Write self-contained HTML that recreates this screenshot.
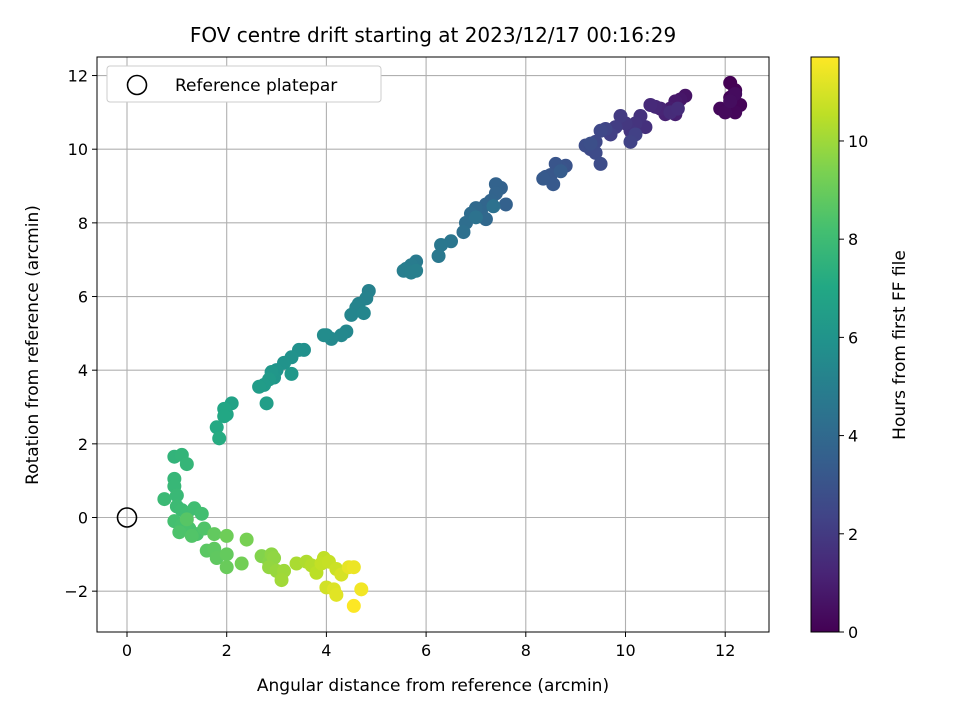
<!DOCTYPE html>
<html><head><meta charset="utf-8"><style>
body{margin:0;background:#fff}
svg text{font-family:"DejaVu Sans","Liberation Sans",sans-serif;fill:#000}
</style></head><body>
<svg id="c" width="960" height="720" xmlns="http://www.w3.org/2000/svg">
<defs><linearGradient id="vg" x1="0" y1="1" x2="0" y2="0">
<stop offset="0" stop-color="#440154"/><stop offset="0.1" stop-color="#482475"/><stop offset="0.2" stop-color="#414487"/><stop offset="0.3" stop-color="#355f8d"/><stop offset="0.4" stop-color="#2a788e"/><stop offset="0.5" stop-color="#21918c"/><stop offset="0.6" stop-color="#22a884"/><stop offset="0.7" stop-color="#44bf70"/><stop offset="0.8" stop-color="#7ad151"/><stop offset="0.9" stop-color="#bddf26"/><stop offset="1" stop-color="#fde725"/></linearGradient>
<clipPath id="clip"><rect x="97" y="57" width="672" height="575"/></clipPath></defs>
<rect width="960" height="720" fill="#fff"/>
<g id="grid"></g>
<g id="pts" clip-path="url(#clip)"></g>
<circle cx="127" cy="517.5" r="9.5" fill="none" stroke="#000" stroke-width="1.6"/>
<rect x="97" y="57" width="672" height="575" fill="none" stroke="#000" stroke-width="1"/>
<g id="ticks"></g>
<text x="433" y="42" font-size="20" text-anchor="middle">FOV centre drift starting at 2023/12/17 00:16:29</text>
<text x="433" y="691" font-size="17" text-anchor="middle">Angular distance from reference (arcmin)</text>
<text transform="translate(38,345) rotate(-90)" font-size="17" text-anchor="middle">Rotation from reference (arcmin)</text>
<g>
<rect x="107" y="66" width="274" height="36" rx="3" fill="#fff" stroke="#ccc"/>
<circle cx="137" cy="85" r="9.5" fill="none" stroke="#000" stroke-width="1.6"/>
<text x="175" y="91" font-size="17">Reference platepar</text></g>
<rect x="811" y="57" width="28" height="575" fill="url(#vg)" stroke="#000" stroke-width="1"/>
<g id="cbt"></g>
<text transform="translate(905,345) rotate(-90)" font-size="17" text-anchor="middle">Hours from first FF file</text>
</svg>
<script>
const xs=[12.1,12.2,12.1,12.3,12.2,11.9,12.0,12.2,12.1,11.2,11.1,11.0,10.9,11.0,10.8,10.7,10.6,10.5,10.9,11.05,10.4,10.3,10.2,10.1,10.0,9.9,9.8,9.7,10.2,10.1,9.6,9.5,9.4,9.3,9.4,9.5,9.2,9.3,8.8,8.7,8.6,8.5,8.4,8.55,8.35,8.7,7.6,7.5,7.4,7.4,7.3,7.2,7.1,7.2,7.0,6.9,6.8,6.75,7.35,7.0,6.5,6.3,6.25,5.8,5.7,5.6,5.55,5.7,5.8,4.85,4.8,4.65,4.6,4.5,4.75,4.4,4.3,4.1,4.0,3.95,3.55,3.45,3.3,3.15,3.0,2.95,2.9,3.3,2.85,2.75,2.65,2.8,2.1,2.0,1.95,1.95,1.8,1.85,0.95,1.1,1.2,0.95,0.95,1.0,0.75,1.0,1.1,1.2,1.35,1.5,0.95,1.1,1.25,1.4,1.05,1.55,1.3,1.2,1.6,1.75,1.8,1.75,2.0,2.0,2.0,2.3,2.4,2.7,2.85,2.9,2.95,2.85,3.0,3.15,3.1,3.4,3.6,3.7,3.8,3.95,3.9,4.05,4.2,4.0,4.3,4.15,4.2,4.45,4.55,4.7,4.55];
const ys=[11.8,11.6,11.4,11.2,11.0,11.1,11.0,11.5,11.3,11.45,11.35,11.3,11.1,10.95,10.95,11.1,11.15,11.2,11.0,11.1,10.6,10.9,10.7,10.5,10.7,10.9,10.6,10.4,10.4,10.2,10.55,10.5,10.2,10.0,9.9,9.6,10.1,10.15,9.55,9.5,9.6,9.3,9.25,9.05,9.2,9.4,8.5,8.95,9.05,8.8,8.6,8.5,8.3,8.1,8.4,8.25,8.0,7.75,8.45,8.15,7.5,7.4,7.1,6.95,6.85,6.75,6.7,6.65,6.7,6.15,5.95,5.8,5.7,5.5,5.55,5.05,4.95,4.85,4.95,4.95,4.55,4.55,4.35,4.2,4.0,3.8,3.95,3.9,3.75,3.6,3.55,3.1,3.1,2.8,2.95,2.75,2.45,2.15,1.65,1.7,1.45,1.05,0.85,0.6,0.5,0.3,0.2,0.1,0.25,0.1,-0.1,-0.2,-0.3,-0.45,-0.4,-0.3,-0.5,-0.05,-0.9,-0.85,-1.1,-0.45,-1.0,-1.35,-0.5,-1.25,-0.6,-1.05,-1.2,-1.0,-1.1,-1.35,-1.45,-1.45,-1.7,-1.25,-1.2,-1.3,-1.5,-1.1,-1.25,-1.2,-1.4,-1.9,-1.55,-1.95,-2.1,-1.35,-1.35,-1.95,-2.4];
const hrs=[0.0,0.05,0.1,0.15,0.2,0.25,0.3,0.35,0.4,0.6,0.7,0.8,0.9,1.0,1.1,1.2,1.3,1.4,1.45,1.5,1.6,1.7,1.75,1.8,1.9,2.0,2.1,2.2,2.25,2.3,2.4,2.5,2.55,2.6,2.65,2.7,2.75,2.8,3.0,3.05,3.1,3.15,3.2,3.25,3.3,3.4,3.6,3.65,3.7,3.75,3.8,3.85,3.9,3.95,4.0,4.1,4.2,4.3,4.35,4.4,4.6,4.65,4.7,4.8,4.85,4.9,4.95,5.0,5.0,5.1,5.15,5.2,5.25,5.3,5.35,5.4,5.45,5.5,5.55,5.6,5.8,5.85,5.9,5.95,6.0,6.1,6.15,6.2,6.3,6.35,6.4,6.5,6.7,6.8,6.9,7.0,7.1,7.2,7.6,7.65,7.7,7.75,7.8,7.85,7.9,7.95,8.0,8.05,8.1,8.15,8.2,8.25,8.3,8.35,8.4,8.45,8.5,8.6,8.7,8.75,8.8,8.85,8.9,9.0,9.1,9.2,9.3,9.5,9.6,9.7,9.75,9.8,9.9,10.0,10.05,10.2,10.3,10.4,10.5,10.6,10.65,10.7,10.8,10.9,11.0,11.1,11.2,11.3,11.4,11.5,11.7];
const xTicks=[0,2,4,6,8,10,12], yTicks=[-2,0,2,4,6,8,10,12], cTicks=[0,2,4,6,8,10];
const HMAX=11.71;
const X=v=>127+v*49.85, Y=v=>517.5-v*36.83, C=v=>632-v*(575/HMAX);
const cols=[[68,1,84],[72,36,117],[65,68,135],[53,95,141],[42,120,142],[33,145,140],[34,168,132],[68,191,112],[122,209,81],[189,223,38],[253,231,37]];
function vir(t){t=Math.max(0,Math.min(1,t))*10;const i=Math.min(9,Math.floor(t)),f=t-i;const a=cols[i],b=cols[i+1];return `rgb(${a.map((v,k)=>Math.round(v+(b[k]-v)*f)).join(',')})`;}
const NS='http://www.w3.org/2000/svg';
function mk(p,tag,at){const e=document.createElementNS(NS,tag);for(const k in at)e.setAttribute(k,at[k]);p.appendChild(e);return e;}
const g=document.getElementById('grid'),tk=document.getElementById('ticks'),pg=document.getElementById('pts'),cb=document.getElementById('cbt');
xTicks.forEach(v=>{const l=mk(g,'line',{x1:X(v),x2:X(v),y1:57,y2:632,stroke:'#b0b0b0','stroke-width':1.1});


const t=mk(tk,'line',{x1:X(v),x2:X(v),y1:632,y2:637,stroke:'#000'});


const s=mk(tk,'text',{x:X(v),y:656,'font-size':16,'text-anchor':'middle'});s.textContent=v<0?'\u2212'+(-v):v;

});
yTicks.forEach(v=>{const l=mk(g,'line',{x1:97,x2:769,y1:Y(v),y2:Y(v),stroke:'#b0b0b0','stroke-width':1.1});


const t=mk(tk,'line',{x1:92,x2:97,y1:Y(v),y2:Y(v),stroke:'#000'});


const s=mk(tk,'text',{x:88,y:Y(v)+6,'font-size':16,'text-anchor':'end'});s.textContent=v<0?'\u2212'+(-v):v;

});
xs.forEach((x,i)=>{const c=mk(pg,'circle',{cx:X(x),cy:Y(ys[i]),r:7,fill:vir(hrs[i]/HMAX)});

});
cTicks.forEach(v=>{const t=mk(cb,'line',{x1:839,x2:844,y1:C(v),y2:C(v),stroke:'#000'});


const s=mk(cb,'text',{x:848,y:C(v)+6,'font-size':16});s.textContent=v;

});
</script>
</body></html>
